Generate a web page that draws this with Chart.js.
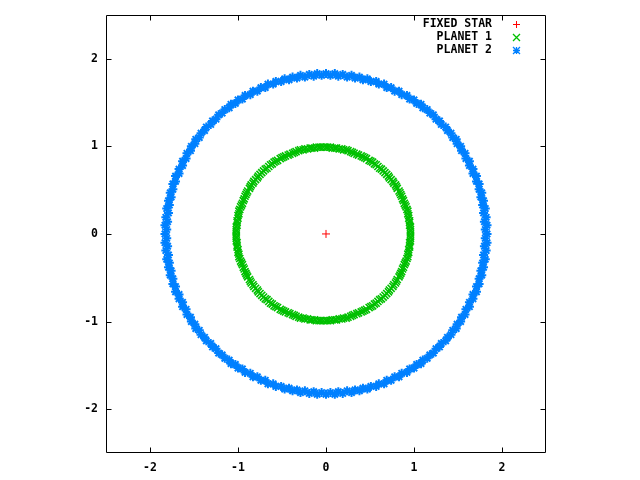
<!DOCTYPE html>
<html>
<head>
<meta charset="utf-8">
<script src="https://cdn.jsdelivr.net/npm/chart.js@4.4.0/dist/chart.umd.min.js"></script>
<style>
  body { margin: 0; background: #fff; }
  canvas { display: block; }
</style>
</head>
<body>
<canvas id="orbitChart" width="640" height="480"></canvas>
<script>
const seriesLabels = ["FIXED STAR", "PLANET 1", "PLANET 2"];
const seriesColors = ["#ff0000", "#00c000", "#0080ff"];
const tickValues = [-2, -1, 0, 1, 2];

const fixedStar = [[0, 0]];

// planet 1 orbit (slightly left of the star)
const planet1 = [
  [0.96,0.00],[0.96,0.05],[0.95,0.10],[0.95,0.15],[0.94,0.21],[0.93,0.26],[0.91,0.31],[0.89,0.35],[0.87,0.40],[0.85,0.45],
  [0.83,0.49],[0.80,0.54],[0.77,0.58],[0.74,0.62],[0.71,0.66],[0.67,0.70],[0.63,0.74],[0.59,0.77],[0.55,0.80],[0.51,0.83],
  [0.46,0.86],[0.42,0.88],[0.37,0.90],[0.32,0.92],[0.28,0.94],[0.23,0.96],[0.18,0.97],[0.12,0.98],[0.07,0.98],[0.02,0.99],
  [-0.03,0.99],[-0.08,0.99],[-0.13,0.98],[-0.18,0.98],[-0.24,0.97],[-0.29,0.96],[-0.34,0.94],[-0.38,0.92],[-0.43,0.90],[-0.48,0.88],
  [-0.52,0.86],[-0.57,0.83],[-0.61,0.80],[-0.65,0.77],[-0.69,0.74],[-0.73,0.70],[-0.77,0.66],[-0.80,0.62],[-0.83,0.58],[-0.86,0.54],
  [-0.89,0.49],[-0.91,0.45],[-0.93,0.40],[-0.95,0.35],[-0.97,0.31],[-0.99,0.26],[-1.00,0.21],[-1.01,0.15],[-1.01,0.10],[-1.02,0.05],
  [-1.02,0.00],[-1.02,-0.05],[-1.01,-0.10],[-1.01,-0.15],[-1.00,-0.21],[-0.99,-0.26],[-0.97,-0.31],[-0.95,-0.35],[-0.93,-0.40],[-0.91,-0.45],
  [-0.89,-0.49],[-0.86,-0.54],[-0.83,-0.58],[-0.80,-0.62],[-0.77,-0.66],[-0.73,-0.70],[-0.69,-0.74],[-0.65,-0.77],[-0.61,-0.80],[-0.57,-0.83],
  [-0.52,-0.86],[-0.48,-0.88],[-0.43,-0.90],[-0.38,-0.92],[-0.34,-0.94],[-0.29,-0.96],[-0.24,-0.97],[-0.18,-0.98],[-0.13,-0.98],[-0.08,-0.99],
  [-0.03,-0.99],[0.02,-0.99],[0.07,-0.98],[0.12,-0.98],[0.18,-0.97],[0.23,-0.96],[0.28,-0.94],[0.32,-0.92],[0.37,-0.90],[0.42,-0.88],
  [0.46,-0.86],[0.51,-0.83],[0.55,-0.80],[0.59,-0.77],[0.63,-0.74],[0.67,-0.70],[0.71,-0.66],[0.74,-0.62],[0.77,-0.58],[0.80,-0.54],
  [0.83,-0.49],[0.85,-0.45],[0.87,-0.40],[0.89,-0.35],[0.91,-0.31],[0.93,-0.26],[0.94,-0.21],[0.95,-0.15],[0.95,-0.10],[0.96,-0.05],
  [0.96,0.03],[0.96,0.08],[0.95,0.13],[0.94,0.18],[0.93,0.23],[0.92,0.28],[0.90,0.33],[0.88,0.38],[0.86,0.43],[0.84,0.47],
  [0.81,0.52],[0.79,0.56],[0.76,0.60],[0.72,0.64],[0.69,0.68],[0.65,0.72],[0.61,0.75],[0.57,0.79],[0.53,0.82],[0.49,0.84],
  [0.44,0.87],[0.40,0.89],[0.35,0.91],[0.30,0.93],[0.25,0.95],[0.20,0.96],[0.15,0.97],[0.10,0.98],[0.05,0.99],[0.00,0.99],
  [-0.06,0.99],[-0.11,0.99],[-0.16,0.98],[-0.21,0.97],[-0.26,0.96],[-0.31,0.95],[-0.36,0.93],[-0.41,0.91],[-0.46,0.89],[-0.50,0.87],
  [-0.55,0.84],[-0.59,0.82],[-0.63,0.79],[-0.67,0.75],[-0.71,0.72],[-0.75,0.68],[-0.78,0.64],[-0.82,0.60],[-0.85,0.56],[-0.87,0.52],
  [-0.90,0.47],[-0.92,0.43],[-0.94,0.38],[-0.96,0.33],[-0.98,0.28],[-0.99,0.23],[-1.00,0.18],[-1.01,0.13],[-1.02,0.08],[-1.02,0.03],
  [-1.02,-0.03],[-1.02,-0.08],[-1.01,-0.13],[-1.00,-0.18],[-0.99,-0.23],[-0.98,-0.28],[-0.96,-0.33],[-0.94,-0.38],[-0.92,-0.43],[-0.90,-0.47],
  [-0.87,-0.52],[-0.85,-0.56],[-0.82,-0.60],[-0.78,-0.64],[-0.75,-0.68],[-0.71,-0.72],[-0.67,-0.75],[-0.63,-0.79],[-0.59,-0.82],[-0.55,-0.84],
  [-0.50,-0.87],[-0.46,-0.89],[-0.41,-0.91],[-0.36,-0.93],[-0.31,-0.95],[-0.26,-0.96],[-0.21,-0.97],[-0.16,-0.98],[-0.11,-0.99],[-0.06,-0.99],
  [0.00,-0.99],[0.05,-0.99],[0.10,-0.98],[0.15,-0.97],[0.20,-0.96],[0.25,-0.95],[0.30,-0.93],[0.35,-0.91],[0.40,-0.89],[0.44,-0.87],
  [0.49,-0.84],[0.53,-0.82],[0.57,-0.79],[0.61,-0.75],[0.65,-0.72],[0.69,-0.68],[0.72,-0.64],[0.76,-0.60],[0.79,-0.56],[0.81,-0.52],
  [0.84,-0.47],[0.86,-0.43],[0.88,-0.38],[0.90,-0.33],[0.92,-0.28],[0.93,-0.23],[0.94,-0.18],[0.95,-0.13],[0.96,-0.08],[0.96,-0.03]
];

// planet 2 orbit, outer ring
const planet2 = [
  [1.83,0],[1.83,0.10],[1.82,0.19],[1.81,0.29],[1.79,0.38],[1.77,0.47],[1.74,0.57],[1.71,0.66],[1.67,0.74],[1.63,0.83],
  [1.58,0.92],[1.53,1.00],[1.48,1.08],[1.42,1.15],[1.36,1.22],[1.29,1.29],[1.22,1.36],[1.15,1.42],[1.08,1.48],[1.00,1.53],
  [0.92,1.58],[0.83,1.63],[0.74,1.67],[0.66,1.71],[0.57,1.74],[0.47,1.77],[0.38,1.79],[0.29,1.81],[0.19,1.82],[0.10,1.83],
  [0,1.83],[-0.10,1.83],[-0.19,1.82],[-0.29,1.81],[-0.38,1.79],[-0.47,1.77],[-0.57,1.74],[-0.66,1.71],[-0.74,1.67],[-0.83,1.63],
  [-0.92,1.58],[-1.00,1.53],[-1.08,1.48],[-1.15,1.42],[-1.22,1.36],[-1.29,1.29],[-1.36,1.22],[-1.42,1.15],[-1.48,1.08],[-1.53,1.00],
  [-1.58,0.92],[-1.63,0.83],[-1.67,0.74],[-1.71,0.66],[-1.74,0.57],[-1.77,0.47],[-1.79,0.38],[-1.81,0.29],[-1.82,0.19],[-1.83,0.10],
  [-1.83,0],[-1.83,-0.10],[-1.82,-0.19],[-1.81,-0.29],[-1.79,-0.38],[-1.77,-0.47],[-1.74,-0.57],[-1.71,-0.66],[-1.67,-0.74],[-1.63,-0.83],
  [-1.58,-0.92],[-1.53,-1.00],[-1.48,-1.08],[-1.42,-1.15],[-1.36,-1.22],[-1.29,-1.29],[-1.22,-1.36],[-1.15,-1.42],[-1.08,-1.48],[-1.00,-1.53],
  [-0.92,-1.58],[-0.83,-1.63],[-0.74,-1.67],[-0.66,-1.71],[-0.57,-1.74],[-0.47,-1.77],[-0.38,-1.79],[-0.29,-1.81],[-0.19,-1.82],[-0.10,-1.83],
  [0,-1.83],[0.10,-1.83],[0.19,-1.82],[0.29,-1.81],[0.38,-1.79],[0.47,-1.77],[0.57,-1.74],[0.66,-1.71],[0.74,-1.67],[0.83,-1.63],
  [0.92,-1.58],[1.00,-1.53],[1.08,-1.48],[1.15,-1.42],[1.22,-1.36],[1.29,-1.29],[1.36,-1.22],[1.42,-1.15],[1.48,-1.08],[1.53,-1.00],
  [1.58,-0.92],[1.63,-0.83],[1.67,-0.74],[1.71,-0.66],[1.74,-0.57],[1.77,-0.47],[1.79,-0.38],[1.81,-0.29],[1.82,-0.19],[1.83,-0.10],
  [1.81,0.05],[1.80,0.14],[1.79,0.24],[1.78,0.33],[1.76,0.42],[1.74,0.51],[1.71,0.60],[1.67,0.69],[1.63,0.78],[1.59,0.86],
  [1.54,0.95],[1.49,1.03],[1.44,1.10],[1.38,1.18],[1.31,1.25],[1.25,1.31],[1.18,1.38],[1.10,1.44],[1.03,1.49],[0.95,1.54],
  [0.86,1.59],[0.78,1.63],[0.69,1.67],[0.60,1.71],[0.51,1.74],[0.42,1.76],[0.33,1.78],[0.24,1.79],[0.14,1.80],[0.05,1.81],
  [-0.05,1.81],[-0.14,1.80],[-0.24,1.79],[-0.33,1.78],[-0.42,1.76],[-0.51,1.74],[-0.60,1.71],[-0.69,1.67],[-0.78,1.63],[-0.86,1.59],
  [-0.95,1.54],[-1.03,1.49],[-1.10,1.44],[-1.18,1.38],[-1.25,1.31],[-1.31,1.25],[-1.38,1.18],[-1.44,1.10],[-1.49,1.03],[-1.54,0.95],
  [-1.59,0.86],[-1.63,0.78],[-1.67,0.69],[-1.71,0.60],[-1.74,0.51],[-1.76,0.42],[-1.78,0.33],[-1.79,0.24],[-1.80,0.14],[-1.81,0.05],
  [-1.81,-0.05],[-1.80,-0.14],[-1.79,-0.24],[-1.78,-0.33],[-1.76,-0.42],[-1.74,-0.51],[-1.71,-0.60],[-1.67,-0.69],[-1.63,-0.78],[-1.59,-0.86],
  [-1.54,-0.95],[-1.49,-1.03],[-1.44,-1.10],[-1.38,-1.18],[-1.31,-1.25],[-1.25,-1.31],[-1.18,-1.38],[-1.10,-1.44],[-1.03,-1.49],[-0.95,-1.54],
  [-0.86,-1.59],[-0.78,-1.63],[-0.69,-1.67],[-0.60,-1.71],[-0.51,-1.74],[-0.42,-1.76],[-0.33,-1.78],[-0.24,-1.79],[-0.14,-1.80],[-0.05,-1.81],
  [0.05,-1.81],[0.14,-1.80],[0.24,-1.79],[0.33,-1.78],[0.42,-1.76],[0.51,-1.74],[0.60,-1.71],[0.69,-1.67],[0.78,-1.63],[0.86,-1.59],
  [0.95,-1.54],[1.03,-1.49],[1.10,-1.44],[1.18,-1.38],[1.25,-1.31],[1.31,-1.25],[1.38,-1.18],[1.44,-1.10],[1.49,-1.03],[1.54,-0.95],
  [1.59,-0.86],[1.63,-0.78],[1.67,-0.69],[1.71,-0.60],[1.74,-0.51],[1.76,-0.42],[1.78,-0.33],[1.79,-0.24],[1.80,-0.14],[1.81,-0.05]
];

const pointStyles = ["cross", "crossRot", "star"];
const pointSizes = [4, 5, 4.5];
const pointWidths = [1, 1.6, 2];
const seriesData = [fixedStar, planet1, planet2];

const FONT = "bold 11.5px 'DejaVu Sans Mono', monospace";

function toPoints(arr) {
  return arr.map(p => ({ x: p[0], y: p[1] }));
}

// gnuplot style frame with inward ticks on all four sides + key in the corner
const framePlugin = {
  id: "frame",
  afterDraw(chart) {
    const ctx = chart.ctx;
    const a = chart.chartArea;
    const xs = chart.scales.x, ys = chart.scales.y;
    const L = Math.round(a.left) + 0.5, R = Math.round(a.right) - 0.5;
    const T = Math.round(a.top) + 0.5, B = Math.round(a.bottom) - 0.5;
    ctx.save();
    ctx.strokeStyle = "#000";
    ctx.lineWidth = 1;
    ctx.beginPath();
    ctx.rect(L, T, R - L, B - T);
    tickValues.forEach(v => {
      const px = Math.round(xs.getPixelForValue(v)) + 0.5;
      ctx.moveTo(px, B); ctx.lineTo(px, B - 5);
      ctx.moveTo(px, T); ctx.lineTo(px, T + 5);
      const py = Math.round(ys.getPixelForValue(v)) + 0.5;
      ctx.moveTo(L, py); ctx.lineTo(L + 5, py);
      ctx.moveTo(R, py); ctx.lineTo(R - 5, py);
    });
    ctx.stroke();

    // key
    ctx.font = FONT;
    ctx.textAlign = "right";
    ctx.textBaseline = "middle";
    chart.data.datasets.forEach((ds, i) => {
      const y = 24 + i * 13;
      ctx.fillStyle = "#000";
      ctx.fillText(ds.label, 492, y);
      ctx.strokeStyle = ds.borderColor;
      ctx.lineWidth = ds.pointStyle === "cross" ? 1 : 1.3;
      ctx.beginPath();
      const cx = 516.5, cy = y + 0.5;
      if (ds.pointStyle === "cross" || ds.pointStyle === "star") {
        ctx.moveTo(cx - 3.5, cy); ctx.lineTo(cx + 3.5, cy);
        ctx.moveTo(cx, cy - 3.5); ctx.lineTo(cx, cy + 3.5);
      }
      if (ds.pointStyle === "crossRot" || ds.pointStyle === "star") {
        ctx.moveTo(cx - 3.5, cy - 3.5); ctx.lineTo(cx + 3.5, cy + 3.5);
        ctx.moveTo(cx - 3.5, cy + 3.5); ctx.lineTo(cx + 3.5, cy - 3.5);
      }
      ctx.stroke();
    });
    ctx.restore();
  }
};

const ctx = document.getElementById("orbitChart").getContext("2d");
const chart = new Chart(ctx, {
  type: "scatter",
  data: {
    datasets: seriesData.map((d, i) => ({
      label: seriesLabels[i],
      data: toPoints(d),
      borderColor: seriesColors[i],
      backgroundColor: seriesColors[i],
      pointStyle: pointStyles[i],
      pointRadius: pointSizes[i],
      pointBorderWidth: pointWidths[i],
      pointHoverRadius: pointSizes[i]
    }))
  },
  options: {
    responsive: false,
    animation: false,
    layout: { padding: { top: 13, right: 94, left: 0, bottom: 0 } },
    plugins: {
      legend: { display: false },
      tooltip: { enabled: false }
    },
    scales: {
      x: {
        type: "linear",
        min: -2.5,
        max: 2.5,
        grid: { display: false, drawTicks: false },
        border: { display: false },
        afterBuildTicks: s => { s.ticks = tickValues.map(v => ({ value: v })); },
        afterFit: s => { s.height = 27; },
        ticks: {
          color: "#000",
          font: { family: "'DejaVu Sans Mono', monospace", size: 11.5, weight: "bold" },
          padding: 8,
          maxRotation: 0
        }
      },
      y: {
        type: "linear",
        min: -2.5,
        max: 2.5,
        grid: { display: false, drawTicks: false },
        border: { display: false },
        afterBuildTicks: s => { s.ticks = tickValues.map(v => ({ value: v })); },
        afterFit: s => { s.width = 106; },
        ticks: {
          color: "#000",
          font: { family: "'DejaVu Sans Mono', monospace", size: 11.5, weight: "bold" },
          padding: 8
        }
      }
    }
  },
  plugins: [framePlugin]
});
</script>
</body>
</html>
